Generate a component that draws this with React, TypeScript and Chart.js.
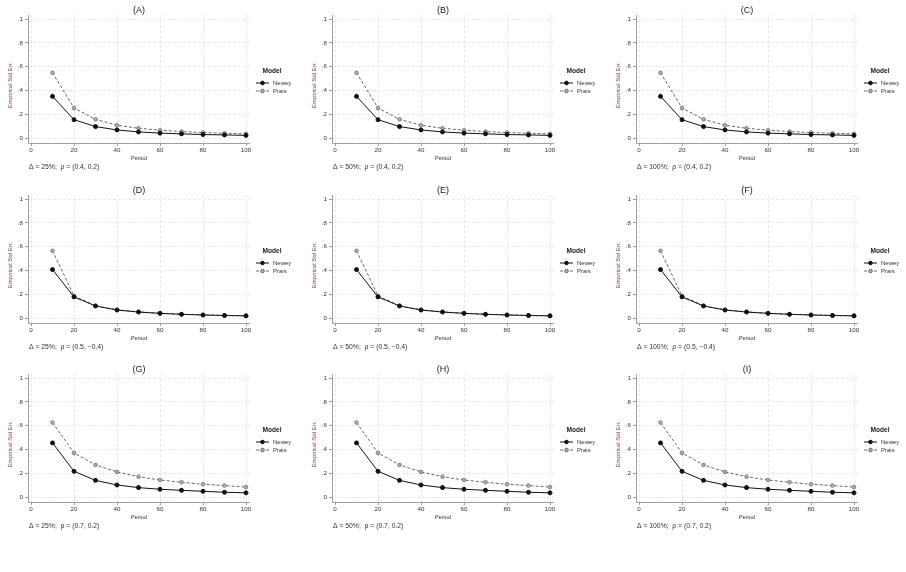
import React, { useEffect, useRef } from "react";
import { Chart, registerables } from "chart.js";

Chart.register(...registerables);

const FONT = '"Liberation Sans", Arial, sans-serif';

// Sample length (T) on the horizontal axis
const PERIODS = [10, 20, 30, 40, 50, 60, 70, 80, 90, 100];

// Empirical standard errors, rho = (0.4, 0.2)
const NEWEY_R1 = [0.35, 0.154, 0.096, 0.068, 0.051, 0.041, 0.035, 0.029, 0.026, 0.022];
const PRAIS_R1 = [0.549, 0.252, 0.157, 0.107, 0.082, 0.065, 0.054, 0.046, 0.04, 0.035];

// rho = (0.5, -0.4)
const NEWEY_R2 = [0.407, 0.177, 0.101, 0.067, 0.05, 0.039, 0.031, 0.025, 0.021, 0.018];
const PRAIS_R2 = [0.565, 0.186, 0.103, 0.069, 0.052, 0.04, 0.032, 0.026, 0.022, 0.019];

// rho = (0.7, 0.2)
const NEWEY_R3 = [0.455, 0.216, 0.14, 0.101, 0.079, 0.065, 0.056, 0.048, 0.04, 0.035];
const PRAIS_R3 = [0.626, 0.371, 0.27, 0.211, 0.171, 0.143, 0.124, 0.107, 0.096, 0.084];

const X_TICKS = [0, 20, 40, 60, 80, 100];
const Y_TICKS = [0, 0.2, 0.4, 0.6, 0.8, 1];
const Y_TICK_LABELS = ["0", ".2", ".4", ".6", ".8", "1"];

const PANEL_TITLES = ["(A)", "(B)", "(C)", "(D)", "(E)", "(F)", "(G)", "(H)", "(I)"];
const DELTAS = ["25%", "50%", "100%"];
const RHOS = ["(0.4, 0.2)", "(0.5, \u22120.4)", "(0.7, 0.2)"];
const NEWEY_ROWS = [NEWEY_R1, NEWEY_R2, NEWEY_R3];
const PRAIS_ROWS = [PRAIS_R1, PRAIS_R2, PRAIS_R3];
const SERIES_NAMES = ["Newey", "Prais"];

const PANEL_W = 302;
const PANEL_H = 178;
const COL_LEFT = [0, 304, 608];
const ROW_TOP = [0, 180, 359];

const NEWEY_COLOR = "#111111";
const PRAIS_COLOR = "#666666";
const PRAIS_FILL = "#b5b5b5";
const TEXT_COLOR = "#333333";
const YTITLE_COLOR = "#7b3a50";
const AXIS_COLOR = "#a0a0a0";
const GRID_COLOR = "#e2e2e2";

// Solid axis lines on the left and bottom edges of the plot region
const axisLinesPlugin = {
  id: "axisLines",
  beforeDatasetsDraw(chart: any) {
    const ctx = chart.ctx as CanvasRenderingContext2D;
    const a = chart.chartArea;
    ctx.save();
    ctx.setLineDash([]);
    ctx.strokeStyle = AXIS_COLOR;
    ctx.lineWidth = 1;
    ctx.beginPath();
    ctx.moveTo(a.left + 0.5, a.top);
    ctx.lineTo(a.left + 0.5, a.bottom + 0.5);
    ctx.lineTo(a.right, a.bottom + 0.5);
    ctx.stroke();
    ctx.restore();
  },
};

function textPlugin(title: string, caption: string) {
  return {
    id: "panelText",
    afterDraw(chart: any) {
      const ctx = chart.ctx as CanvasRenderingContext2D;
      const area = chart.chartArea;
      const cx = (area.left + area.right) / 2;
      ctx.save();
      ctx.setLineDash([]);
      ctx.textBaseline = "middle";

      // panel title
      ctx.fillStyle = "#222";
      ctx.font = `9px ${FONT}`;
      ctx.textAlign = "center";
      ctx.fillText(title, cx, 11);

      // x axis title
      ctx.fillStyle = TEXT_COLOR;
      ctx.font = `5.6px ${FONT}`;
      ctx.fillText("Period", cx, 158);

      // y axis title
      ctx.save();
      ctx.translate(10, 85);
      ctx.rotate(-Math.PI / 2);
      ctx.fillStyle = YTITLE_COLOR;
      ctx.font = `6px ${FONT}`;
      ctx.fillText("Empirical Std Err.", 0, 0);
      ctx.restore();

      // note below the plot
      ctx.textAlign = "left";
      ctx.fillStyle = TEXT_COLOR;
      ctx.font = `6.8px ${FONT}`;
      ctx.fillText(caption, 29, 167);

      // legend
      const lx0 = 256;
      const lx1 = 269;
      ctx.textAlign = "center";
      ctx.fillStyle = "#222";
      ctx.font = `bold 6.6px ${FONT}`;
      ctx.fillText("Model", 272, 71);

      const rows = [
        { y: 83, color: NEWEY_COLOR, fill: NEWEY_COLOR, dash: [] as number[] },
        { y: 91, color: PRAIS_COLOR, fill: PRAIS_FILL, dash: [3, 2] },
      ];
      rows.forEach((r, i) => {
        ctx.strokeStyle = r.color;
        ctx.lineWidth = 1;
        ctx.setLineDash(r.dash);
        ctx.beginPath();
        ctx.moveTo(lx0, r.y);
        ctx.lineTo(lx1, r.y);
        ctx.stroke();
        ctx.setLineDash([]);
        ctx.beginPath();
        ctx.arc((lx0 + lx1) / 2, r.y, 1.8, 0, Math.PI * 2);
        ctx.fillStyle = r.fill;
        ctx.fill();
        ctx.stroke();
        ctx.fillStyle = TEXT_COLOR;
        ctx.font = `6px ${FONT}`;
        ctx.textAlign = "left";
        ctx.fillText(SERIES_NAMES[i], 273, r.y);
      });
      ctx.restore();
    },
  };
}

const gridOptions = {
  color: GRID_COLOR,
  lineWidth: 0.8,
  drawTicks: true,
  tickLength: 3,
  tickColor: "#999",
  tickWidth: 1,
  tickBorderDash: [],
};

function Panel({ index }: { index: number }) {
  const ref = useRef<HTMLCanvasElement | null>(null);
  const row = Math.floor(index / 3);
  const col = index % 3;

  useEffect(() => {
    if (!ref.current) return;
    const caption = `\u0394 = ${DELTAS[col]};  \u03c1 = ${RHOS[row]}`;
    const newey = NEWEY_ROWS[row];
    const prais = PRAIS_ROWS[row];
    const chart = new Chart(ref.current, {
      type: "line",
      data: {
        datasets: [
          {
            label: SERIES_NAMES[0],
            data: PERIODS.map((p, i) => ({ x: p, y: newey[i] })),
            borderColor: NEWEY_COLOR,
            borderWidth: 1,
            pointRadius: 2,
            pointBackgroundColor: NEWEY_COLOR,
            pointBorderColor: NEWEY_COLOR,
            pointBorderWidth: 1,
            tension: 0,
            order: 1,
          },
          {
            label: SERIES_NAMES[1],
            data: PERIODS.map((p, i) => ({ x: p, y: prais[i] })),
            borderColor: PRAIS_COLOR,
            borderWidth: 1,
            borderDash: [3, 2],
            pointRadius: 1.8,
            pointBackgroundColor: PRAIS_FILL,
            pointBorderColor: PRAIS_COLOR,
            pointBorderWidth: 0.8,
            tension: 0,
            order: 2,
          },
        ],
      },
      options: {
        animation: false,
        responsive: false,
        devicePixelRatio: 1,
        layout: { padding: { top: 15, right: 52, left: 0, bottom: 0 } },
        plugins: { legend: { display: false }, tooltip: { enabled: false }, title: { display: false } },
        scales: {
          x: {
            type: "linear",
            min: -1.4,
            max: 101.86,
            afterFit: (s: any) => {
              s.height = PANEL_H - 143;
            },
            afterBuildTicks: (s: any) => {
              s.ticks = X_TICKS.map((v) => ({ value: v }));
            },
            ticks: {
              color: TEXT_COLOR,
              font: { family: FONT, size: 6.2 },
              padding: 1,
              maxRotation: 0,
              autoSkip: false,
            },
            grid: gridOptions,
            border: { display: false, dash: [3, 2] },
          },
          y: {
            type: "linear",
            min: -0.042,
            max: 1.034,
            afterFit: (s: any) => {
              s.width = 28;
            },
            afterBuildTicks: (s: any) => {
              s.ticks = Y_TICKS.map((v) => ({ value: v }));
            },
            ticks: {
              color: TEXT_COLOR,
              font: { family: FONT, size: 6.2 },
              padding: 2,
              autoSkip: false,
              callback: (v: any) => {
                const i = Y_TICKS.findIndex((t) => Math.abs(t - Number(v)) < 1e-9);
                return i >= 0 ? Y_TICK_LABELS[i] : "";
              },
            },
            grid: gridOptions,
            border: { display: false, dash: [3, 2] },
          },
        },
      },
      plugins: [axisLinesPlugin, textPlugin(PANEL_TITLES[index], caption)],
    } as any);
    return () => chart.destroy();
  }, [index, row, col]);

  return (
    <div
      style={{
        position: "absolute",
        left: COL_LEFT[col],
        top: ROW_TOP[row],
        width: PANEL_W,
        height: PANEL_H,
      }}
    >
      <canvas ref={ref} width={PANEL_W} height={PANEL_H} style={{ display: "block" }} />
    </div>
  );
}

export default function App() {
  return (
    <div
      style={{
        position: "absolute",
        left: 0,
        top: 0,
        width: 906,
        height: 572,
        background: "#ffffff",
        overflow: "hidden",
      }}
    >
      {PANEL_TITLES.map((_, i) => (
        <Panel key={i} index={i} />
      ))}
    </div>
  );
}
